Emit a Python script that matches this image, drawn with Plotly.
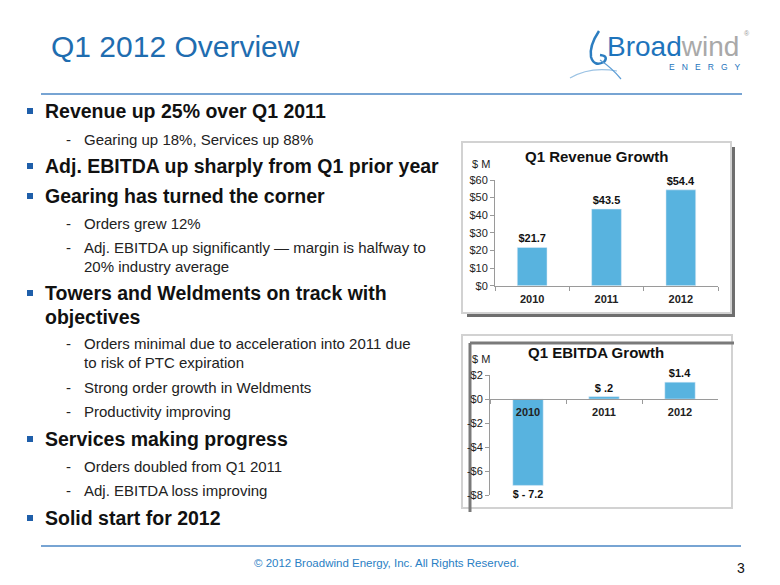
import plotly.graph_objects as go

# ---------------- data ----------------
years = ["2010", "2011", "2012"]
year_labels = ["<b>2010</b>", "<b>2011</b>", "<b>2012</b>"]
revenue = [21.7, 43.5, 54.4]
revenue_labels = ["$21.7", "$43.5", "$54.4"]
ebitda = [-7.2, 0.2, 1.4]
ebitda_labels = ["$ - 7.2", "$ .2", "$1.4"]
rev_tickvals = [0, 10, 20, 30, 40, 50, 60]
rev_ticktext = ["$0", "$10", "$20", "$30", "$40", "$50", "$60"]
eb_tickvals = [-8, -6, -4, -2, 0, 2]
eb_ticktext = ["-$8", "-$6", "-$4", "-$2", "$0", "$2"]

bullets = [
    ("main", "Revenue up 25% over Q1 2011", 111),
    ("sub", "Gearing up 18%, Services up 88%", 139),
    ("main", "Adj. EBITDA up sharply from Q1 prior year", 166),
    ("main", "Gearing has turned the corner", 196),
    ("sub", "Orders grew 12%", 224),
    ("sub", "Adj. EBITDA up significantly \u2014 margin is halfway to", 248),
    ("cont", "20% industry average", 266),
    ("main", "Towers and Weldments on track with", 293),
    ("cont2", "objectives", 317),
    ("sub", "Orders minimal due to acceleration into 2011 due", 343),
    ("cont", "to risk of PTC expiration", 362),
    ("sub", "Strong order growth in Weldments", 387),
    ("sub", "Productivity improving", 411),
    ("main", "Services making progress", 439),
    ("sub", "Orders doubled from Q1 2011", 466),
    ("sub", "Adj. EBITDA loss improving", 490),
    ("main", "Solid start for 2012", 518),
]

W, H = 780, 585
TOP, INNER = 6.0, 573.0   # vertical placement calibration
def px(x): return x / W
def py(y): return 1 - (y - TOP) / INNER

FONT = "Liberation Sans, Arial, sans-serif"
BAR = "#58B3DF"
BLUE = "#1F6DB0"

fig = go.Figure()
fig.add_trace(go.Bar(x=years, y=revenue, text=revenue_labels, textposition="outside",
                     textfont=dict(size=11, color="#111", family=FONT),
                     texttemplate="<b>%{text}</b>", marker_color=BAR,
                     xaxis="x", yaxis="y", cliponaxis=False, hoverinfo="skip"))
fig.add_trace(go.Bar(x=years, y=ebitda, text=ebitda_labels, textposition="outside",
                     textfont=dict(size=11, color="#111", family=FONT),
                     texttemplate="<b>%{text}</b>", marker_color=BAR,
                     xaxis="x2", yaxis="y2", cliponaxis=False, hoverinfo="skip"))

axis_common = dict(showgrid=False, zeroline=False, showline=True, linecolor="#9a9a9a",
                   linewidth=1, ticks="outside", tickcolor="#9a9a9a", ticklen=4,
                   tickfont=dict(size=11, color="#222", family=FONT))

fig.update_layout(
    width=W, height=H, autosize=False, margin=dict(l=0, r=0, t=0, b=0, pad=0),
    paper_bgcolor="white", plot_bgcolor="rgba(0,0,0,0)", hovermode=False,
    showlegend=False, bargap=0.6,
    xaxis=dict(domain=[px(495), px(718)], anchor="y", type="category",
               tickvals=years, ticktext=year_labels, tickson="boundaries",
               ticklabelstandoff=3, **axis_common),
    yaxis=dict(domain=[py(285.7), py(180)], anchor="x", range=[0, 60],
               tickvals=rev_tickvals, ticktext=rev_ticktext, **axis_common),
    xaxis2=dict(domain=[px(490), px(718)], anchor="free", position=py(399), type="category",
                tickvals=years, ticktext=year_labels, tickson="boundaries",
                ticklabelstandoff=3, **axis_common),
    yaxis2=dict(domain=[py(495), py(375)], anchor="x2", range=[-8, 2],
                tickvals=eb_tickvals, ticktext=eb_ticktext, **axis_common),
)

shapes = []
# title rule and footer rule
shapes.append(dict(type="line", xref="paper", yref="paper", x0=px(41), x1=px(742),
                   y0=py(94), y1=py(94), line=dict(color="#4A86C5", width=1.5)))
shapes.append(dict(type="line", xref="paper", yref="paper", x0=px(41), x1=px(741),
                   y0=py(546), y1=py(546), line=dict(color="#4A86C5", width=1.5)))
# top chart panel: shadow + frame
shapes.append(dict(type="rect", xref="paper", yref="paper", x0=px(467), x1=px(735),
                   y0=py(317), y1=py(147), fillcolor="#6e6e6e", line=dict(width=0), layer="below"))
shapes.append(dict(type="rect", xref="paper", yref="paper", x0=px(462), x1=px(731),
                   y0=py(313), y1=py(142), fillcolor="white",
                   line=dict(color="#d2d2d2", width=2), layer="below"))
# bottom chart panel
shapes.append(dict(type="rect", xref="paper", yref="paper", x0=px(462), x1=px(732),
                   y0=py(508), y1=py(335), fillcolor="white",
                   line=dict(color="#d2d2d2", width=2), layer="below"))
shapes.append(dict(type="line", xref="paper", yref="paper", x0=px(470), x1=px(470),
                   y0=py(343), y1=py(512), line=dict(color="#7a7a7a", width=3), layer="below"))
shapes.append(dict(type="line", xref="paper", yref="paper", x0=px(470), x1=px(734),
                   y0=py(343), y1=py(343), line=dict(color="#7a7a7a", width=3), layer="below"))
# bullet squares
for kind, txt, y in bullets:
    if kind == "main":
        shapes.append(dict(type="rect", xref="paper", yref="paper", x0=px(27), x1=px(33),
                           y0=py(y + 3), y1=py(y - 3), fillcolor="#1F5FAA", line=dict(width=0)))
# logo swoosh
shapes.append(dict(type="path", xref="paper", yref="paper",
                   path=f"M {px(599)},{py(31)} Q {px(589)},{py(46)} {px(591)},{py(57)} "
                        f"Q {px(594)},{py(67)} {px(604)},{py(62)} Q {px(609)},{py(56)} {px(600)},{py(55)}",
                   line=dict(color="#2C7DC0", width=2.5)))
shapes.append(dict(type="path", xref="paper", yref="paper",
                   path=f"M {px(570)},{py(78)} Q {px(590)},{py(66)} {px(617)},{py(71)}",
                   line=dict(color="#9CC3E4", width=1.2)))
shapes.append(dict(type="path", xref="paper", yref="paper",
                   path=f"M {px(600)},{py(60)} Q {px(612)},{py(68)} {px(621)},{py(79)}",
                   line=dict(color="#5E9ED6", width=1.2)))
fig.update_layout(shapes=shapes)

ann = []
def text(x, y, s, size, color="#111", bold=False, xanchor="left"):
    ann.append(dict(xref="paper", yref="paper", x=px(x), y=py(y), text=(f"<b>{s}</b>" if bold else s),
                    showarrow=False, xanchor=xanchor, yanchor="middle",
                    font=dict(size=size, color=color, family=FONT)))

text(49, 47, "Q1 2012 Overview", 30, color=BLUE)
for kind, txt, y in bullets:
    if kind in ("main", "cont2"):
        text(43, y, txt, 19.5, bold=True)
    elif kind == "sub":
        text(64, y, "-", 15, color="#222")
        text(82, y, txt, 15, color="#222")
    else:
        text(82, y, txt, 15, color="#222")

# chart titles
text(596, 157, "Q1 Revenue Growth", 15, bold=True, xanchor="center")
text(470, 164, "$ M", 11, color="#222")
text(596, 352, "Q1 EBITDA Growth", 15, bold=True, xanchor="center")
text(470, 359, "$ M", 11, color="#222")

# logo
ann.append(dict(xref="paper", yref="paper", x=px(605), y=py(46),
                text='<span style="color:#1E74BC">Broad</span><span style="color:#A9A9A9">wind</span>',
                showarrow=False, xanchor="left", yanchor="middle",
                font=dict(size=28, family=FONT)))
text(742, 33, "\u00ae", 7, color="#999")
text(667, 67, "E   N   E   R   G   Y", 8.5, color="#1E74BC")

# footer
text(386, 563, "\u00a9 2012 Broadwind Energy, Inc. All Rights Reserved.", 11.5, color="#2A80C4", xanchor="center")
text(741, 568, "3", 14, color="#111", xanchor="center")

fig.update_layout(annotations=ann)
fig.write_html("out.html", config={"displayModeBar": False, "responsive": False},
               post_script="document.body.style.margin='0';document.body.style.overflow='hidden';")
